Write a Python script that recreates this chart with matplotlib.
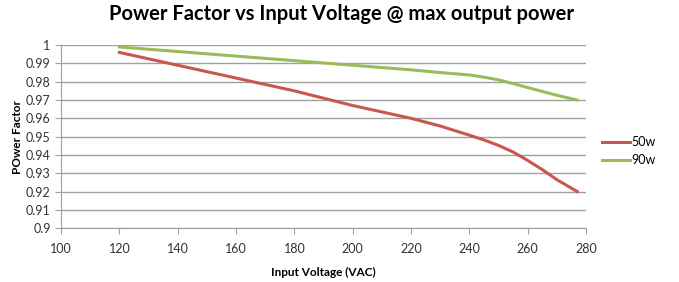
import matplotlib.pyplot as plt
import numpy as np

# 读图估计的数据
voltage = [120, 140, 160, 180, 200, 220, 230, 240, 245, 250, 255, 260, 265, 270, 277]
pf_50w = [0.996, 0.989, 0.982, 0.975, 0.967, 0.960, 0.9558, 0.9508, 0.9482, 0.9452, 0.9416, 0.937, 0.932, 0.9265, 0.920]
pf_90w = [0.999, 0.9965, 0.994, 0.9915, 0.989, 0.9865, 0.985, 0.9837, 0.9825, 0.981, 0.979, 0.9768, 0.9747, 0.9726, 0.970]

plt.rcParams['font.family'] = ['Lato', 'DejaVu Sans']

fig = plt.figure(figsize=(6.79, 2.82), dpi=100)
ax = fig.add_axes([0.09, 0.191, 0.773, 0.649])

ax.plot(voltage, pf_50w, color='#C9574F', lw=2.2, label='50w', solid_joinstyle='round')
ax.plot(voltage, pf_90w, color='#9BBB59', lw=2.2, label='90w', solid_joinstyle='round')

ax.set_xlim(100, 280)
ax.set_ylim(0.9, 1.0)
ax.set_xticks(np.arange(100, 281, 20))
ax.set_yticks(np.arange(0.9, 1.001, 0.01))
ax.set_yticklabels(['0.9', '0.91', '0.92', '0.93', '0.94', '0.95', '0.96', '0.97', '0.98', '0.99', '1'])
ax.grid(axis='y', color='#A0A0A0', lw=1)
ax.set_axisbelow(True)
for s in ['top', 'right']:
    ax.spines[s].set_visible(False)
ax.spines['left'].set_color('#A0A0A0')
ax.spines['bottom'].set_color('#A0A0A0')
ax.tick_params(axis='both', colors='#A0A0A0', labelcolor='#333333', labelsize=9, length=4)
ax.tick_params(axis='x', pad=7)

ax.set_xlabel('Input Voltage (VAC)', fontsize=8.5, fontweight='bold', labelpad=8)
ax.set_ylabel('POwer Factor', fontsize=8.5, fontweight='bold', labelpad=2)
fig.suptitle('Power Factor vs Input Voltage @ max output power', fontsize=14.5,
             fontweight='bold', x=0.503, y=0.985)

ax.legend(loc='center left', bbox_to_anchor=(1.01, 0.42), frameon=False,
          fontsize=9, handlelength=2.2, handletextpad=0.1, labelspacing=0.5)

fig.savefig('out.png', dpi=100)
